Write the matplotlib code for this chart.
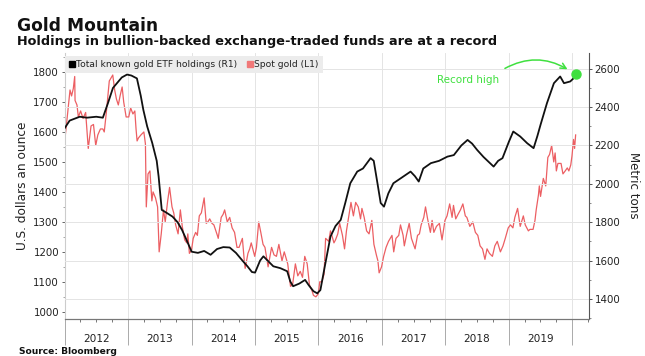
import pandas as pd
import matplotlib
matplotlib.use("Agg")
import matplotlib.pyplot as plt
import matplotlib.dates as mdates
from matplotlib.lines import Line2D

# spot gold, USD an ounce (left axis)
spot_dates = [
    "2012-01-01", "2012-01-09", "2012-01-16", "2012-01-25", "2012-02-01", "2012-02-10", "2012-02-20", "2012-02-28",
    "2012-03-01", "2012-03-12", "2012-03-20", "2012-04-02", "2012-04-16", "2012-05-01", "2012-05-10", "2012-05-16",
    "2012-06-01", "2012-06-15", "2012-06-28", "2012-07-10", "2012-07-25", "2012-08-08", "2012-08-16", "2012-08-28",
    "2012-09-14", "2012-10-04", "2012-10-15", "2012-10-25", "2012-11-05", "2012-11-15", "2012-11-27", "2012-12-06",
    "2012-12-20", "2013-01-04", "2013-01-15", "2013-01-28", "2013-02-08", "2013-02-15", "2013-02-21", "2013-03-01",
    "2013-03-15", "2013-04-01", "2013-04-10", "2013-04-15", "2013-04-25", "2013-05-06", "2013-05-17", "2013-05-24",
    "2013-06-07", "2013-06-19", "2013-06-28", "2013-07-10", "2013-07-23", "2013-08-02", "2013-08-16", "2013-08-27",
    "2013-09-10", "2013-09-20", "2013-10-01", "2013-10-15", "2013-10-28", "2013-11-08", "2013-11-22", "2013-12-04",
    "2013-12-10", "2013-12-19", "2013-12-31", "2014-01-10", "2014-01-24", "2014-02-03", "2014-02-14", "2014-02-26",
    "2014-03-14", "2014-03-26", "2014-04-04", "2014-04-15", "2014-04-28", "2014-05-09", "2014-05-29", "2014-06-03",
    "2014-06-20", "2014-07-01", "2014-07-10", "2014-07-25", "2014-08-08", "2014-08-22", "2014-09-05", "2014-09-19",
    "2014-10-01", "2014-10-20", "2014-10-31", "2014-11-05", "2014-11-21", "2014-12-01", "2014-12-10", "2014-12-30",
    "2015-01-09", "2015-01-22", "2015-02-03", "2015-02-16", "2015-02-27", "2015-03-17", "2015-04-06", "2015-04-20",
    "2015-05-04", "2015-05-18", "2015-06-05", "2015-06-18", "2015-07-08", "2015-07-24", "2015-08-05", "2015-08-21",
    "2015-09-04", "2015-09-18", "2015-10-01", "2015-10-14", "2015-10-28", "2015-11-10", "2015-11-25", "2015-12-03",
    "2015-12-17", "2015-12-31", "2016-01-08", "2016-01-20", "2016-02-02", "2016-02-11", "2016-02-29", "2016-03-10",
    "2016-03-18", "2016-03-30", "2016-04-08", "2016-04-21", "2016-05-02", "2016-05-18", "2016-05-30", "2016-06-10",
    "2016-06-24", "2016-07-06", "2016-07-20", "2016-08-02", "2016-08-17", "2016-08-30", "2016-09-07", "2016-09-20",
    "2016-10-04", "2016-10-18", "2016-11-03", "2016-11-15", "2016-11-29", "2016-12-08", "2016-12-15", "2016-12-29",
    "2017-01-10", "2017-01-24", "2017-02-07", "2017-02-27", "2017-03-09", "2017-03-22", "2017-04-07", "2017-04-17",
    "2017-05-02", "2017-05-09", "2017-05-23", "2017-06-06", "2017-06-19", "2017-07-10", "2017-07-24", "2017-08-04",
    "2017-08-14", "2017-08-29", "2017-09-08", "2017-09-20", "2017-10-06", "2017-10-16", "2017-10-26", "2017-11-10",
    "2017-11-27", "2017-12-12", "2017-12-29", "2018-01-10", "2018-01-25", "2018-02-08", "2018-02-16", "2018-03-01",
    "2018-03-14", "2018-03-28", "2018-04-11", "2018-04-25", "2018-05-04", "2018-05-21", "2018-06-07", "2018-06-22",
    "2018-07-06", "2018-07-19", "2018-08-02", "2018-08-16", "2018-08-28", "2018-09-11", "2018-09-28", "2018-10-12",
    "2018-10-26", "2018-11-13", "2018-11-28", "2018-12-11", "2018-12-28", "2019-01-10", "2019-01-24", "2019-02-04",
    "2019-02-20", "2019-03-07", "2019-03-25", "2019-04-05", "2019-04-23", "2019-05-02", "2019-05-20", "2019-05-31",
    "2019-06-07", "2019-06-20", "2019-06-25", "2019-07-02", "2019-07-18", "2019-08-01", "2019-08-13", "2019-08-23",
    "2019-09-04", "2019-09-16", "2019-09-24", "2019-10-01", "2019-10-10", "2019-10-28", "2019-11-08", "2019-11-21",
    "2019-12-03", "2019-12-12", "2019-12-23", "2019-12-30", "2020-01-08", "2020-01-14", "2020-01-20",
]
spot_usd = [
    1570, 1610, 1650, 1700, 1740, 1720, 1745, 1785,
    1705, 1690, 1650, 1670, 1645, 1665, 1590, 1545,
    1620, 1625, 1555, 1590, 1610, 1610, 1600, 1665,
    1770, 1790, 1740, 1710, 1690, 1720, 1750, 1700,
    1650, 1650, 1680, 1660, 1670, 1610, 1570, 1580,
    1590, 1600, 1560, 1350, 1460, 1470, 1370, 1400,
    1380, 1350, 1200, 1260, 1340, 1300, 1370, 1415,
    1350, 1330, 1290, 1260, 1340, 1285, 1240, 1230,
    1260, 1195, 1205, 1245, 1265, 1255, 1320, 1330,
    1380, 1295, 1300, 1310, 1295, 1290, 1255, 1245,
    1315, 1325, 1340, 1300, 1315, 1280, 1265, 1215,
    1215, 1245, 1170, 1145, 1195, 1210, 1230, 1185,
    1215, 1300, 1265, 1225, 1215, 1150, 1215, 1190,
    1185, 1225, 1170, 1200, 1160, 1085, 1090, 1160,
    1120, 1135, 1115, 1185, 1160, 1090, 1070, 1055,
    1050, 1060, 1100, 1100, 1125, 1245, 1235, 1270,
    1255, 1230, 1240, 1260, 1295, 1255, 1210, 1270,
    1320, 1365, 1320, 1365, 1350, 1310, 1345, 1315,
    1270, 1260, 1305, 1225, 1190, 1170, 1130, 1150,
    1185, 1215, 1235, 1255, 1200, 1245, 1255, 1290,
    1255, 1220, 1260, 1295, 1245, 1210, 1255, 1260,
    1290, 1315, 1350, 1310, 1265, 1305, 1265, 1285,
    1295, 1240, 1305, 1320, 1360, 1315, 1355, 1310,
    1325, 1340, 1360, 1320, 1315, 1285, 1300, 1265,
    1255, 1220, 1210, 1175, 1210, 1195, 1185, 1220,
    1235, 1200, 1220, 1245, 1280, 1290, 1280, 1315,
    1345, 1285, 1320, 1290, 1270, 1275, 1275, 1305,
    1340, 1390, 1420, 1385, 1445, 1420, 1515, 1525,
    1555, 1500, 1530, 1470, 1495, 1495, 1460, 1470,
    1480, 1470, 1490, 1520, 1575, 1545, 1590,
]

# total known gold ETF holdings, metric tons (right axis)
etf_dates = [
    "2012-01-01", "2012-01-30", "2012-03-28", "2012-05-08", "2012-07-01", "2012-08-08", "2012-09-06", "2012-10-05",
    "2012-11-25", "2012-12-25", "2013-01-19", "2013-02-20", "2013-03-14", "2013-03-29", "2013-04-20", "2013-05-19",
    "2013-06-14", "2013-06-25", "2013-07-13", "2013-08-08", "2013-09-13", "2013-10-12", "2013-11-07", "2013-12-06",
    "2014-01-01", "2014-02-06", "2014-03-14", "2014-04-20", "2014-05-27", "2014-07-02", "2014-08-08", "2014-09-13",
    "2014-10-20", "2014-11-18", "2014-12-14", "2015-01-01", "2015-01-30", "2015-02-18", "2015-03-14", "2015-04-16",
    "2015-05-27", "2015-07-05", "2015-07-23", "2015-08-08", "2015-09-13", "2015-10-16", "2015-11-07", "2015-12-03",
    "2015-12-25", "2016-01-12", "2016-02-10", "2016-03-10", "2016-04-08", "2016-05-08", "2016-06-03", "2016-07-02",
    "2016-08-11", "2016-09-13", "2016-10-27", "2016-11-14", "2016-12-06", "2016-12-24", "2017-01-12", "2017-02-06",
    "2017-03-07", "2017-04-20", "2017-06-14", "2017-07-09", "2017-07-31", "2017-08-26", "2017-10-09", "2017-11-25",
    "2018-01-12", "2018-02-18", "2018-04-02", "2018-05-08", "2018-06-03", "2018-07-02", "2018-08-08", "2018-10-05",
    "2018-10-31", "2018-11-25", "2019-01-01", "2019-01-26", "2019-03-07", "2019-04-16", "2019-05-23", "2019-06-14",
    "2019-07-02", "2019-08-08", "2019-09-17", "2019-10-23", "2019-11-14", "2019-12-20", "2020-01-19",
]
etf_tons = [
    2290, 2330, 2350, 2345, 2350, 2345, 2420, 2500,
    2555, 2570, 2565, 2550, 2460, 2386, 2300, 2214,
    2120, 2038, 1864, 1850, 1829, 1800, 1759, 1700,
    1646, 1640, 1650, 1630, 1660, 1670, 1668, 1640,
    1600, 1570, 1540, 1537, 1600, 1622, 1600, 1570,
    1560, 1544, 1490, 1466, 1480, 1499, 1470, 1440,
    1429, 1446, 1587, 1725, 1780, 1812, 1900, 2003,
    2064, 2080, 2134, 2120, 2000, 1900, 1881, 1950,
    2003, 2030, 2064, 2040, 2012, 2080, 2108, 2120,
    2142, 2150, 2200, 2229, 2210, 2177, 2140, 2090,
    2120, 2134, 2220, 2273, 2247, 2212, 2186, 2250,
    2308, 2421, 2525, 2560, 2525, 2534, 2560,
]

years = [2012, 2013, 2014, 2015, 2016, 2017, 2018, 2019]
left_ticks = [1000, 1100, 1200, 1300, 1400, 1500, 1600, 1700, 1800]
right_ticks = [1400, 1600, 1800, 2000, 2200, 2400, 2600]
record_date = "2020-01-20"
record_tons = 2574

RED = "#ec5f63"
GREEN = "#3fe03f"
TXT = "#222222"

fig = plt.figure(figsize=(6.45, 3.56), dpi=100)
ax = fig.add_axes([0.1002, 0.1039, 0.8130, 0.7486])
ax2 = ax.twinx()

ax.plot(pd.to_datetime(spot_dates), spot_usd, color=RED, lw=0.9)
ax2.plot(pd.to_datetime(etf_dates), etf_tons, color="#111111", lw=1.3)

ax.set_xlim(pd.Timestamp("2012-01-01"), pd.Timestamp("2020-04-06"))
ax.set_ylim(976, 1865)
ax2.set_ylim(1295, 2685)

ax.set_yticks(left_ticks)
ax.set_yticks(range(1050, 1851, 100), minor=True)
ax2.set_yticks(right_ticks)
ax2.set_yticks(range(1300, 2700, 200), minor=True)

ax.xaxis.set_major_locator(mdates.YearLocator(1))
ax.xaxis.set_minor_locator(mdates.MonthLocator(bymonth=[4, 7, 10]))
ax.xaxis.set_major_formatter(plt.NullFormatter())
ax.tick_params(axis="x", which="major", length=18.7, width=0.7, color="#aaaaaa")
ax.tick_params(axis="x", which="minor", length=2.5, width=0.7, color="#777777")
for y in years:
    ax.text(pd.Timestamp(f"{y}-07-02"), -0.075, str(y), transform=ax.get_xaxis_transform(),
            ha="center", va="center", fontsize=7.6, color=TXT)

ax.tick_params(axis="y", which="major", length=2.5, width=0.7, color="#666666",
               labelsize=7.4, labelcolor=TXT, pad=1.5)
ax.tick_params(axis="y", which="minor", length=1.5, width=0.6, color="#999999")
ax2.tick_params(axis="y", which="major", length=2.5, width=0.7, color="#555555",
                labelsize=7.4, labelcolor=TXT, pad=1.5)
ax2.tick_params(axis="y", which="minor", length=1.5, width=0.6, color="#777777")

ax.grid(axis="x", which="major", color="#e4e4e4", lw=0.7)
ax2.grid(axis="y", which="major", color="#e4e4e4", lw=0.7)
ax.set_axisbelow(True)
ax2.set_axisbelow(True)

for a in (ax, ax2):
    a.spines["top"].set_visible(False)
    a.spines["bottom"].set_color("#777777")
    a.spines["bottom"].set_linewidth(0.8)
ax.spines["right"].set_visible(False)
ax.spines["left"].set_color("#cccccc")
ax2.spines["left"].set_visible(False)
ax2.spines["right"].set_color("#555555")
ax2.spines["right"].set_linewidth(0.8)

ax.set_ylabel("U.S. dollars an ounce", fontsize=8.7, color=TXT, labelpad=3)
ax2.set_ylabel("Metric tons", fontsize=8.6, color=TXT, rotation=270, va="bottom", labelpad=5)

handles = [
    Line2D([], [], marker="s", ls="none", color="black", markersize=4.3),
    Line2D([], [], marker="s", ls="none", color="#f07878", markersize=4.3),
]
leg = ax2.legend(handles, ["Total known gold ETF holdings (R1)", "Spot gold (L1)"],
                 loc="upper left", bbox_to_anchor=(0, 0.987), ncol=2, fontsize=6.55,
                 frameon=True, fancybox=False, facecolor="#ececec", edgecolor="none",
                 framealpha=1, borderaxespad=0, borderpad=0.45, handlelength=0.7,
                 handletextpad=0.15, columnspacing=1.0)
for t in leg.get_texts():
    t.set_color(TXT)

# record high marker and arrow
ax2.plot(pd.Timestamp(record_date), record_tons, "o", color=GREEN, markersize=6.5, zorder=5)
ax2.annotate("", xy=(pd.Timestamp("2019-12-18"), 2590), xytext=(pd.Timestamp("2018-11-25"), 2595),
             arrowprops=dict(arrowstyle="->", color=GREEN, lw=1.1,
                             connectionstyle="arc3,rad=-0.3"))
ax2.text(pd.Timestamp("2017-11-12"), 2543, "Record high", color=GREEN, fontsize=7.5,
         ha="left", va="center")

fig.text(0.026, 1 - 30.7 / 356, "Gold Mountain", fontsize=12.3, fontweight="bold",
         color="#111111", va="baseline", ha="left")
fig.text(0.026, 1 - 45 / 356, "Holdings in bullion-backed exchange-traded funds are at a record",
         fontsize=9.3, fontweight="bold", color="#111111", va="baseline", ha="left")
fig.text(0.029, 1 - 354.5 / 356, "Source: Bloomberg", fontsize=6.6, fontweight="bold",
         color="#111111", va="baseline", ha="left")

fig.savefig("out.png", dpi=100)
